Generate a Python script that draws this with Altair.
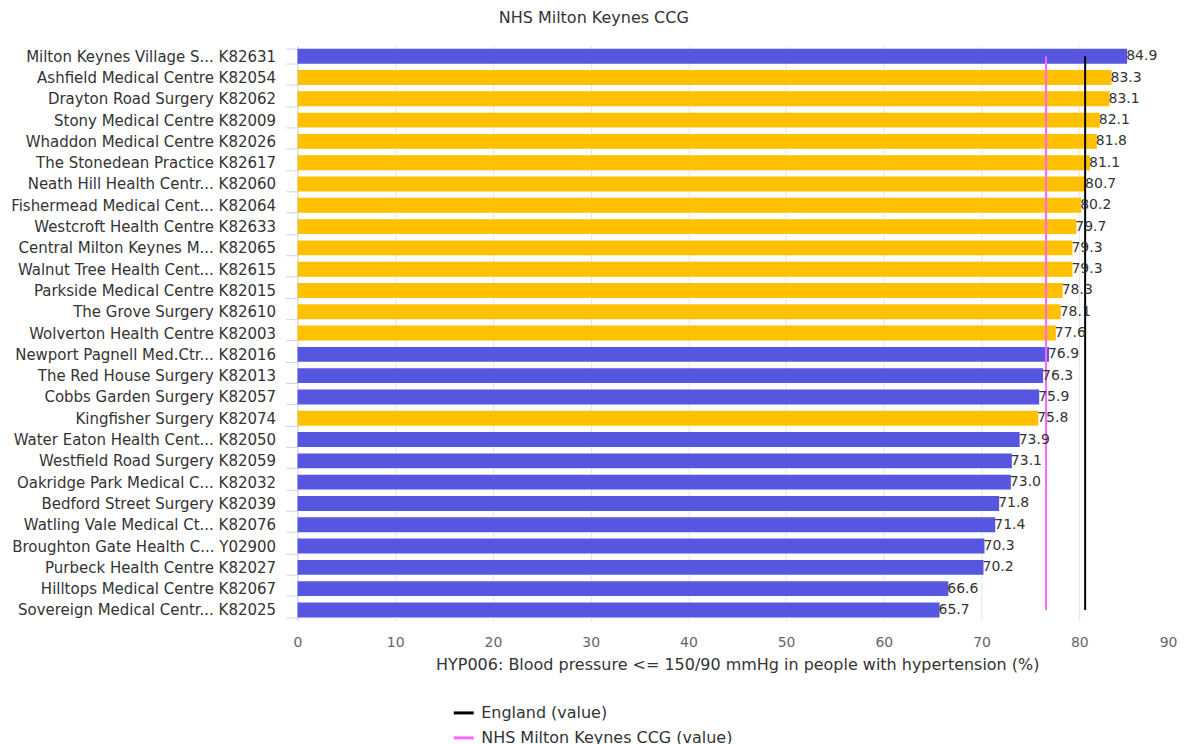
import altair as alt
import pandas as pd

practices = [
    "Milton Keynes Village S... K82631",
    "Ashfield Medical Centre K82054",
    "Drayton Road Surgery K82062",
    "Stony Medical Centre K82009",
    "Whaddon Medical Centre K82026",
    "The Stonedean Practice K82617",
    "Neath Hill Health Centr... K82060",
    "Fishermead Medical Cent... K82064",
    "Westcroft Health Centre K82633",
    "Central Milton Keynes M... K82065",
    "Walnut Tree Health Cent... K82615",
    "Parkside Medical Centre K82015",
    "The Grove Surgery K82610",
    "Wolverton Health Centre K82003",
    "Newport Pagnell Med.Ctr... K82016",
    "The Red House Surgery K82013",
    "Cobbs Garden Surgery K82057",
    "Kingfisher Surgery K82074",
    "Water Eaton Health Cent... K82050",
    "Westfield Road Surgery K82059",
    "Oakridge Park Medical C... K82032",
    "Bedford Street Surgery K82039",
    "Watling Vale Medical Ct... K82076",
    "Broughton Gate Health C... Y02900",
    "Purbeck Health Centre K82027",
    "Hilltops Medical Centre K82067",
    "Sovereign Medical Centr... K82025",
]
values = [84.9, 83.3, 83.1, 82.1, 81.8, 81.1, 80.7, 80.2, 79.7, 79.3, 79.3,
          78.3, 78.1, 77.6, 76.9, 76.3, 75.9, 75.8, 73.9, 73.1, 73.0, 71.8,
          71.4, 70.3, 70.2, 66.6, 65.7]
groups = ["b", "g", "g", "g", "g", "g", "g", "g", "g", "g", "g", "g", "g", "g",
          "b", "b", "b", "g", "b", "b", "b", "b", "b", "b", "b", "b", "b"]

ref_names = ["England (value)", "NHS Milton Keynes CCG (value)"]
ref_values = [80.6, 76.6]
ref_colors = ["#000000", "#ff66ff"]

x_ticks = [0, 10, 20, 30, 40, 50, 60, 70, 80, 90]

df = pd.DataFrame({"practice": practices, "value": values, "group": groups})
df["label"] = df["value"].map(lambda v: f"{v:.1f}")
refs = pd.DataFrame({"name": ref_names, "value": ref_values,
                     "first": practices[0], "last": practices[-1]})

FONT = "DejaVu Sans"

y_scale = alt.Scale(domain=practices, paddingInner=0.3, paddingOuter=0.15)
y_enc = alt.Y("practice:N", title=None, scale=y_scale,
              axis=alt.Axis(labelFont=FONT, labelFontSize=15, labelColor="#333333",
                            domainColor="#ccd6eb", tickColor="#ccd6eb", tickSize=12,
                            tickBand="extent", labelPadding=10, labelLimit=400))
x_enc = alt.X("value:Q", title="HYP006: Blood pressure <= 150/90 mmHg in people with hypertension (%)",
              scale=alt.Scale(domain=[0, 90], nice=False),
              axis=alt.Axis(values=x_ticks, labelFont=FONT, labelFontSize=14,
                            labelAlign=alt.ExprRef("datum.value == 90 ? 'right' : 'center'"),
                            labelColor="#666666", titleFont=FONT, titleFontSize=16,
                            titleFontWeight="normal", titleColor="#333333", domain=False,
                            ticks=False, gridColor="#e6e6e6", labelPadding=15, titlePadding=7))

bars = alt.Chart(df).mark_bar().encode(
    y=y_enc, x=x_enc,
    color=alt.Color("group:N", scale=alt.Scale(domain=["b", "g"], range=["#5656e0", "#ffc000"]),
                    legend=None),
)
labels = alt.Chart(df).mark_text(align="left", baseline="middle", dx=-1, font=FONT,
                                 fontSize=14, color="#333333").encode(
    y=alt.Y("practice:N", scale=y_scale), x="value:Q", text="label:N")

rules = alt.Chart(refs).mark_rule(strokeWidth=2).encode(
    x="value:Q",
    y=alt.Y("first:N", scale=y_scale),
    y2="last:N",
    stroke=alt.Stroke("name:N", scale=alt.Scale(domain=ref_names, range=ref_colors),
                      legend=alt.Legend(title=None, orient="none", legendX=155, legendY=657,
                                        direction="vertical", symbolType="stroke",
                                        symbolStrokeWidth=3, symbolSize=400, labelOffset=6,
                                        labelFont=FONT, labelFontSize=16, labelColor="#333333",
                                        labelLimit=500, rowPadding=5)),
)

chart = alt.layer(bars, rules, labels).resolve_scale(color="independent").properties(
    width=881, height=576,
    padding={"left": 2, "top": 1, "right": 0, "bottom": 0},
    title=alt.TitleParams("NHS Milton Keynes CCG", font=FONT, fontSize=16, frame="bounds",
                          anchor="middle", fontWeight="normal", color="#333333", offset=13),
).configure_view(stroke=None)

chart.save("out.html", embed_options={"renderer": "svg", "actions": False})
